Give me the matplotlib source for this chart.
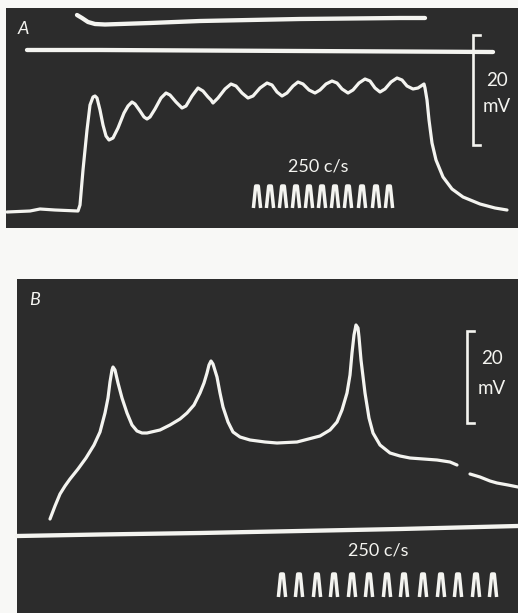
import matplotlib
matplotlib.use("Agg")
import matplotlib.pyplot as plt
from matplotlib.patches import Rectangle

# ---------------- data (pixel coordinates) ----------------
# Panel A
a_top_x = [77, 82, 88, 95, 105, 150, 200, 250, 300, 350, 400, 425]
a_top_y = [15, 18, 22, 24, 24.5, 23, 21, 20, 19, 18.5, 18, 18]

a_base_x = [27, 100, 200, 300, 400, 493]
a_base_y = [50, 50, 50.5, 51, 51.5, 52]

a_trace_x = [7, 30, 40, 55, 78, 80, 83, 87, 90, 93, 95, 97, 100, 103, 106, 109, 113, 118,
             124, 128, 132, 135, 140, 144, 147, 150, 155, 161, 166, 170, 176, 182, 186,
             192, 198, 203, 208, 211, 213, 215, 218, 225, 231, 236, 242, 248, 253, 260,
             267, 272, 277, 282, 287, 293, 298, 303, 309, 315, 320, 326, 332, 337, 342,
             348, 353, 359, 365, 370, 375, 380, 385, 391, 397, 402, 407, 413, 418, 421,
             424, 425, 427, 429, 432, 436, 443, 452, 463, 480, 495, 507]
a_trace_y = [212, 211, 209, 210, 211, 205, 170, 130, 105, 97, 96, 98, 110, 125, 136, 140,
             138, 128, 113, 106, 102, 104, 111, 117, 119, 117, 109, 98, 93, 95, 102, 108,
             106, 96, 88, 91, 97, 100, 103, 101, 98, 89, 84, 86, 93, 98, 96, 88, 83, 85,
             92, 96, 93, 86, 82, 84, 90, 93, 90, 84, 81, 83, 89, 93, 90, 83, 79, 81, 88,
             92, 89, 82, 78, 80, 86, 89, 88, 86, 84, 88, 100, 120, 143, 160, 177, 189,
             197, 204, 208, 210]

a_marks_x = [257, 270, 283, 296, 309, 322, 335, 348, 362, 376, 389]

# Panel B
b_trace1_x = [50, 55, 60, 65, 70, 78, 86, 94, 100, 105, 108, 110, 112, 113, 115, 118, 122,
              127, 132, 137, 142, 147, 160, 170, 180, 187, 194, 200, 204, 207, 209, 211,
              213, 217, 220, 223, 228, 233, 240, 250, 265, 277, 297, 320, 330, 337, 342,
              347, 350, 352, 354, 356, 358, 359, 361, 365, 369, 373, 380, 390, 400, 410,
              437, 450, 457]
b_trace1_y = [519, 506, 494, 486, 479, 469, 458, 445, 432, 413, 398, 382, 370, 367, 370,
              383, 398, 413, 425, 431, 433, 433, 430, 425, 419, 413, 405, 393, 383, 373,
              365, 361, 364, 377, 393, 407, 422, 432, 437, 440, 442, 443, 442, 436, 430,
              422, 410, 393, 375, 353, 335, 325, 328, 337, 360, 393, 418, 433, 445, 453,
              456, 458, 460, 462, 465]
b_trace2_x = [470, 480, 490, 497, 508, 518]
b_trace2_y = [474, 477, 481, 483, 485, 487]

b_base_x = [17, 100, 200, 300, 400, 518]
b_base_y = [536, 534.5, 533, 531, 529, 526]

b_marks_x = [282, 299, 317, 334, 352, 369, 387, 404, 423, 441, 458, 476, 493]

scale_label = "20"
scale_unit = "mV"
timing_label = "250 c/s"

# ---------------- drawing ----------------
W, H = 518, 613
fig = plt.figure(figsize=(W / 100, H / 100), dpi=100)
fig.patch.set_facecolor("#f8f8f6")
ax = fig.add_axes([0, 0, 1, 1])
ax.set_xlim(0, W)
ax.set_ylim(H, 0)
ax.axis("off")

bg = "#2c2c2c"
ink = "#f4f4f0"
fam = ["Lato", "DejaVu Sans"]

ax.add_patch(Rectangle((6, 8), 512, 220, facecolor=bg, edgecolor="none", zorder=0))
ax.add_patch(Rectangle((17, 279), 501, 334, facecolor=bg, edgecolor="none", zorder=0))

lw_thick = 3.1
lw = 2.3
kw = dict(color=ink, solid_capstyle="round", solid_joinstyle="round", zorder=3)

# Panel A
ax.plot(a_top_x, a_top_y, lw=lw_thick, **kw)
ax.plot(a_base_x, a_base_y, lw=lw_thick, **kw)
ax.plot(a_trace_x, a_trace_y, lw=lw, **kw)


def draw_marks(xs, top, bottom):
    for x in xs:
        ax.plot([x - 3.6, x - 1.3, x + 1.3, x + 3.6], [bottom, top + 1, top + 1, bottom],
                lw=2.5, color=ink, solid_joinstyle="round", solid_capstyle="butt",
                zorder=3)


draw_marks(a_marks_x, 185, 208)
ax.text(318, 167, timing_label, color=ink, fontsize=13, family=fam,
        ha="center", va="center", zorder=4)


def scale_bar(x, y0, y1, tx, ty0, ty1):
    ax.plot([x + 7, x, x, x + 7], [y0, y0, y1, y1], lw=1.9, color=ink,
            solid_joinstyle="miter", zorder=3)
    ax.text(tx, ty0, scale_label, color=ink, fontsize=13.5, family=fam,
            ha="center", va="center", zorder=4)
    ax.text(tx, ty1, scale_unit, color=ink, fontsize=13.5, family=fam,
            ha="center", va="center", zorder=4)


scale_bar(473, 35, 145, 497, 80, 106)
ax.text(23, 29, "A", color=ink, fontsize=13, family=fam, style="italic",
        ha="center", va="center", zorder=4)

# Panel B
ax.plot(b_trace1_x, b_trace1_y, lw=lw, **kw)
ax.plot(b_trace2_x, b_trace2_y, lw=lw, **kw)
ax.plot(b_base_x, b_base_y, lw=lw_thick, **kw)
draw_marks(b_marks_x, 573, 597)
ax.text(378, 550, timing_label, color=ink, fontsize=13, family=fam,
        ha="center", va="center", zorder=4)
scale_bar(467, 331, 423, 492, 359, 388)
ax.text(35, 300, "B", color=ink, fontsize=13, family=fam, style="italic",
        ha="center", va="center", zorder=4)

fig.savefig("out.png", dpi=100, facecolor=fig.get_facecolor())
